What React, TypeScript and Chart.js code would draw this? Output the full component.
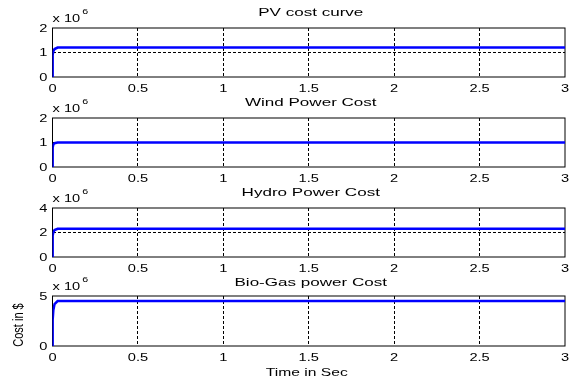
import React, { useEffect, useRef } from "react";
import { Chart, registerables } from "chart.js";
Chart.register(...registerables);

// Time axis (s) and cost values (x 10^6 $)
const timeSec = [0, 0.001, 0.005, 0.012, 0.03, 3];
const pvCost = [0, 0.9, 1.05, 1.14, 1.2, 1.2];
const windCost = [0, 0.8, 0.92, 0.97, 1.0, 1.0];
const hydroCost = [0, 1.75, 2.0, 2.2, 2.3, 2.3];
const bioCost = [0, 2.6, 3.6, 4.2, 4.5, 4.5];

const xTicks = [0, 0.5, 1, 1.5, 2, 2.5, 3];
const pvTicks = [0, 1, 2];
const windTicks = [0, 1, 2];
const hydroTicks = [0, 2, 4];
const bioTicks = [0, 5];

const titles = ["PV cost curve", "Wind Power Cost", "Hydro Power Cost", "Bio-Gas power Cost"];
const xLabel = "Time in Sec";
const yLabel = "Cost in $";

const FONT = "'Liberation Sans', Arial, Helvetica, sans-serif";
const STRETCH = 1.33;

function stretchText(ctx: CanvasRenderingContext2D, text: string, x: number, y: number, align: CanvasTextAlign, base: CanvasTextBaseline, sx: number) {
  ctx.save();
  ctx.translate(x, y);
  ctx.scale(sx, 1);
  ctx.textAlign = align;
  ctx.textBaseline = base;
  ctx.fillText(text, 0, 0);
  ctx.restore();
}

type SubProps = {
  top: number;
  height: number;
  plotTop: number;
  plotBottom: number;
  title: string;
  values: number[];
  yTicks: number[];
  showLabels: boolean;
};

function SubPlot(props: SubProps) {
  const ref = useRef<HTMLCanvasElement | null>(null);
  useEffect(() => {
    const canvas = ref.current;
    if (!canvas) return;
    const yMax = props.yTicks[props.yTicks.length - 1];
    const decor = {
      id: "decor",
      beforeDatasetsDraw(chart: any) {
        const { ctx, chartArea: a } = chart;
        ctx.save();
        ctx.strokeStyle = "#000";
        ctx.lineWidth = 1;
        ctx.setLineDash([]);
        ctx.strokeRect(a.left, a.top, a.right - a.left, a.bottom - a.top);
        ctx.restore();
      },
      afterDraw(chart: any) {
        const { ctx, chartArea: a } = chart;
        const xs = chart.scales.x;
        const ys = chart.scales.y;
        ctx.save();
        ctx.fillStyle = "#000";
        ctx.font = `11px ${FONT}`;
        // tick labels
        xs.ticks.forEach((t: any) => {
          stretchText(ctx, String(t.value), xs.getPixelForValue(t.value), a.bottom + 12, "center", "middle", STRETCH);
        });
        ys.ticks.forEach((t: any) => {
          stretchText(ctx, String(t.value), a.left - 5, ys.getPixelForValue(t.value) + 0.5, "right", "middle", STRETCH);
        });
        // title
        stretchText(ctx, props.title, (a.left + a.right) / 2 + 2, 13, "center", "middle", 1.55);
        // exponent label
        const base = a.top - 6;
        stretchText(ctx, "x 10", a.left, base, "left", "alphabetic", STRETCH);
        const w = ctx.measureText("x 10").width * STRETCH;
        ctx.font = `8px ${FONT}`;
        stretchText(ctx, "6", a.left + w + 2, a.top - 14, "left", "alphabetic", STRETCH);
        if (props.showLabels) {
          ctx.font = `11px ${FONT}`;
          stretchText(ctx, xLabel, (a.left + a.right) / 2 - 2, 103, "center", "middle", 1.42);
          ctx.save();
          ctx.translate(19, (a.top + a.bottom) / 2 + 4);
          ctx.rotate(-Math.PI / 2);
          ctx.scale(1, 1.33);
          ctx.textAlign = "center";
          ctx.textBaseline = "middle";
          ctx.fillText(yLabel, 0, 0);
          ctx.restore();
        }
        ctx.restore();
      },
    };
    const chart = new Chart(canvas, {
      type: "line",
      data: {
        datasets: [
          {
            data: timeSec.map((t, i) => ({ x: t, y: props.values[i] })),
            borderColor: "#0000ff",
            borderWidth: 2.5,
            pointRadius: 0,
            tension: 0,
            fill: false,
          },
        ],
      },
      options: {
        animation: false,
        responsive: false,
        maintainAspectRatio: false,
        events: [],
        layout: { padding: { top: props.plotTop, right: 9, left: 0, bottom: 0 } },
        plugins: { legend: { display: false }, title: { display: false }, tooltip: { enabled: false } },
        scales: {
          x: {
            type: "linear",
            min: 0,
            max: 3,
            afterBuildTicks: (s: any) => {
              s.ticks = xTicks.map((v) => ({ value: v }));
            },
            afterFit: (s: any) => {
              s.height = props.height - props.plotBottom;
            },
            ticks: { display: false, autoSkip: false },
            grid: {
              drawTicks: false,
              lineWidth: 1,
              color: (c: any) =>
                c.tick && (c.tick.value === 0 || c.tick.value === 3) ? "rgba(0,0,0,0)" : "#000",
            },
            border: { display: false, dash: [3, 2] },
          },
          y: {
            type: "linear",
            min: 0,
            max: yMax,
            afterBuildTicks: (s: any) => {
              s.ticks = props.yTicks.map((v) => ({ value: v }));
            },
            afterFit: (s: any) => {
              s.width = 52.5;
            },
            ticks: { display: false, autoSkip: false },
            grid: {
              drawTicks: false,
              lineWidth: 1,
              color: (c: any) =>
                c.tick && (c.tick.value === 0 || c.tick.value === yMax) ? "rgba(0,0,0,0)" : "#000",
            },
            border: { display: false, dash: [3, 2] },
          },
        },
      },
      plugins: [decor],
    } as any);
    return () => chart.destroy();
  }, []);
  return (
    <canvas
      ref={ref}
      width={574}
      height={props.height}
      style={{ position: "absolute", left: 0, top: props.top, width: 574, height: props.height, display: "block" }}
    />
  );
}

export default function App() {
  return (
    <div style={{ position: "fixed", left: 0, top: 0, width: 574, height: 385, background: "#fff", overflow: "hidden" }}>
      <SubPlot top={0} height={100} plotTop={28} plotBottom={77} title={titles[0]} values={pvCost} yTicks={pvTicks} showLabels={false} />
      <SubPlot top={90} height={100} plotTop={28} plotBottom={77} title={titles[1]} values={windCost} yTicks={windTicks} showLabels={false} />
      <SubPlot top={180} height={100} plotTop={28} plotBottom={77} title={titles[2]} values={hydroCost} yTicks={hydroTicks} showLabels={false} />
      <SubPlot top={270} height={115} plotTop={26} plotBottom={76} title={titles[3]} values={bioCost} yTicks={bioTicks} showLabels={true} />
    </div>
  );
}
